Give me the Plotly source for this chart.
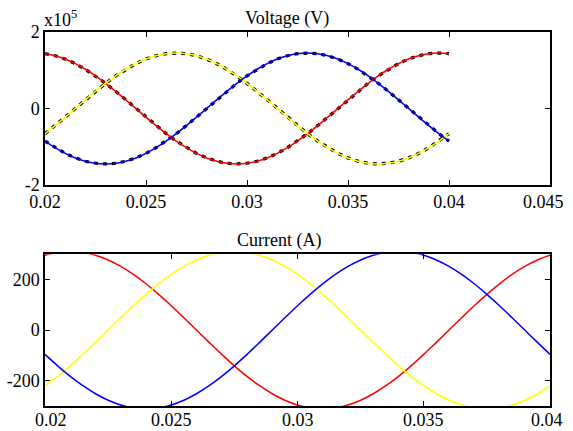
import plotly.graph_objects as go

# time samples (s)
t = [0.0200, 0.0205, 0.0210, 0.0215, 0.0220, 0.0225, 0.0230, 0.0235, 0.0240, 0.0245,
     0.0250, 0.0255, 0.0260, 0.0265, 0.0270, 0.0275, 0.0280, 0.0285, 0.0290, 0.0295,
     0.0300, 0.0305, 0.0310, 0.0315, 0.0320, 0.0325, 0.0330, 0.0335, 0.0340, 0.0345,
     0.0350, 0.0355, 0.0360, 0.0365, 0.0370, 0.0375, 0.0380, 0.0385, 0.0390, 0.0395,
     0.0400]

# voltage, in units of 1e5 V
v_red = [1.433, 1.379, 1.292, 1.173, 1.025, 0.853, 0.658, 0.448, 0.226, 0.0,
         -0.226, -0.448, -0.658, -0.853, -1.025, -1.173, -1.292, -1.379, -1.433, -1.45,
         -1.433, -1.379, -1.292, -1.173, -1.025, -0.853, -0.658, -0.448, -0.226, 0.0,
         0.226, 0.448, 0.658, 0.853, 1.025, 1.173, 1.292, 1.379, 1.433, 1.45,
         1.433]
v_yellow = [-0.658, -0.448, -0.226, 0.0, 0.226, 0.448, 0.658, 0.853, 1.025, 1.173,
            1.292, 1.379, 1.433, 1.45, 1.433, 1.379, 1.292, 1.173, 1.025, 0.853,
            0.658, 0.448, 0.226, 0.0, -0.226, -0.448, -0.658, -0.853, -1.025, -1.173,
            -1.292, -1.379, -1.433, -1.45, -1.433, -1.379, -1.292, -1.173, -1.025, -0.853,
            -0.658]
v_blue = [-0.853, -1.025, -1.173, -1.292, -1.379, -1.433, -1.45, -1.433, -1.379, -1.292,
          -1.173, -1.025, -0.853, -0.658, -0.448, -0.226, 0.0, 0.226, 0.448, 0.658,
          0.853, 1.025, 1.173, 1.292, 1.379, 1.433, 1.45, 1.433, 1.379, 1.292,
          1.173, 1.025, 0.853, 0.658, 0.448, 0.226, 0.0, -0.226, -0.448, -0.658,
          -0.853]

# current (A)
i_red = [295.8, 307.3, 311, 307.3, 295.8, 277.1, 251.6, 219.9, 182.9, 141.2,
         96.1, 48.5, 0, -48.5, -96.1, -141.2, -182.9, -219.9, -251.6, -277.1,
         -295.8, -307.3, -311, -307.3, -295.8, -277.1, -251.6, -219.9, -182.9, -141.2,
         -96.1, -48.5, 0, 48.5, 96.1, 141.2, 182.9, 219.9, 251.6, 277.1,
         295.8]
i_yellow = [-219.9, -182.9, -141.2, -96.1, -48.5, 0, 48.5, 96.1, 141.2, 182.9,
            219.9, 251.6, 277.1, 295.8, 307.3, 311, 307.3, 295.8, 277.1, 251.6,
            219.9, 182.9, 141.2, 96.1, 48.5, 0, -48.5, -96.1, -141.2, -182.9,
            -219.9, -251.6, -277.1, -295.8, -307.3, -311, -307.3, -295.8, -277.1, -251.6,
            -219.9]
i_blue = [-96.1, -141.2, -182.9, -219.9, -251.6, -277.1, -295.8, -307.3, -311, -307.3,
          -295.8, -277.1, -251.6, -219.9, -182.9, -141.2, -96.1, -48.5, 0, 48.5,
          96.1, 141.2, 182.9, 219.9, 251.6, 277.1, 295.8, 307.3, 311, 307.3,
          295.8, 277.1, 251.6, 219.9, 182.9, 141.2, 96.1, 48.5, 0, -48.5,
          -96.1]

v_ticks = [-2, 0, 2]
v_xticks = [0.02, 0.025, 0.03, 0.035, 0.04, 0.045]
v_xlabels = ["0.02", "0.025", "0.03", "0.035", "0.04", "0.045"]
i_ticks = [-200, 0, 200]
i_xticks = [0.02, 0.025, 0.03, 0.035, 0.04]
i_xlabels = ["0.02", "0.025", "0.03", "0.035", "0.04"]

colors = {"red": "#ff0000", "yellow": "#ffff00", "blue": "#0000ff"}

fig = go.Figure()

# black measured waveforms beneath the voltage curves
for vals in (v_red, v_yellow, v_blue):
    fig.add_trace(go.Scatter(x=t, y=vals, mode="lines",
                             line=dict(color="black", width=3.2, dash="4px,5px"),
                             xaxis="x", yaxis="y", showlegend=False, hoverinfo="skip"))
for vals, c in ((v_red, "red"), (v_yellow, "yellow"), (v_blue, "blue")):
    fig.add_trace(go.Scatter(x=t, y=vals, mode="lines", line=dict(color=colors[c], width=1.6, shape="spline"),
                             xaxis="x", yaxis="y", showlegend=False))
for vals, c in ((i_red, "red"), (i_yellow, "yellow"), (i_blue, "blue")):
    fig.add_trace(go.Scatter(x=t, y=vals, mode="lines", line=dict(color=colors[c], width=1.5, shape="spline"),
                             xaxis="x2", yaxis="y2", showlegend=False))

font = dict(family="Liberation Serif, Times New Roman, serif", size=18, color="black")
axis_common = dict(showline=True, linecolor="black", linewidth=1.5, mirror="ticks", ticks="inside",
                   ticklen=5, tickcolor="black", tickwidth=1, showgrid=False, zeroline=False,
                   tickfont=font, automargin=False)

fig.update_layout(
    width=573, height=431,
    margin=dict(l=45, r=23, t=32, b=25),
    paper_bgcolor="white", plot_bgcolor="white",
    font=font,
    xaxis=dict(axis_common, domain=[0, 1], range=[0.02, 0.045], tickvals=v_xticks,
               ticktext=v_xlabels[:-1] + [""], anchor="y"),
    yaxis=dict(axis_common, domain=[0.591, 1], range=[-2, 2], tickvals=v_ticks,
               ticktext=["-2", "0", "2"], anchor="x"),
    xaxis2=dict(axis_common, domain=[0, 1], range=[0.02, 0.04], tickvals=i_xticks,
                ticktext=[""] * len(i_xlabels), anchor="y2"),
    yaxis2=dict(axis_common, domain=[0, 0.406], range=[-300, 300], tickvals=i_ticks,
                ticktext=["-200", "0", "200"], anchor="x2"),
    annotations=[
        dict(text="Voltage (V)", xref="paper", yref="paper", x=0.480, y=1.0, xanchor="center",
             yanchor="bottom", showarrow=False, font=font, yshift=1),
        dict(text="x10<sup>5</sup>", xref="paper", yref="paper", x=0.0, y=1.0, xanchor="left",
             yanchor="bottom", showarrow=False, font=font, xshift=-3),
        dict(text="Current (A)", xref="paper", yref="paper", x=0.463, y=0.406, xanchor="center",
             yanchor="bottom", showarrow=False, font=font, yshift=1),
        dict(text=v_xlabels[-1], xref="x", yref="paper", x=0.045, y=0.591, xanchor="center",
             yanchor="top", showarrow=False, font=font, xshift=-7, yshift=-5),
    ] + [
        dict(text=lab, xref="x2", yref="paper", x=val, y=0.0, xanchor="center",
             yanchor="top", showarrow=False, font=font, yshift=-2,
             xshift=(6 if val == i_xticks[0] else (-3 if val == i_xticks[-1] else 0)))
        for val, lab in zip(i_xticks, i_xlabels)
    ],
)

fig.write_html("out.html", config={"displayModeBar": False},
               post_script="document.body.style.margin='0';document.body.style.overflow='hidden';")
